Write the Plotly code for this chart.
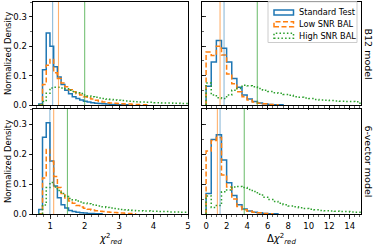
import numpy as np
import plotly.graph_objects as go

# ---------------- data ----------------
series_names = ["Standard Test", "Low SNR BAL", "High SNR BAL"]

# chi2_red bins (left column)
chi_bin_start = 0.668
chi_bin_width = 0.108
# delta chi2_red bins (right column)
dchi_bin_start = 0.0
dchi_bin_width = 0.5

# B12 model, chi2_red
b12_chi_std = [0.003, 0.12, 0.245, 0.20, 0.13, 0.095, 0.07, 0.05, 0.038, 0.028, 0.022, 0.017,
               0.013, 0.010, 0.008, 0.006, 0.005, 0.004, 0.003, 0.002, 0.002, 0.001, 0.001, 0.001]
b12_chi_low = [0.0, 0.07, 0.135, 0.155, 0.11, 0.09, 0.075, 0.062, 0.052, 0.045, 0.038, 0.034,
               0.028, 0.024, 0.020, 0.016, 0.013, 0.010, 0.008, 0.007, 0.006, 0.005, 0.004,
               0.003, 0.003, 0.002, 0.002, 0.001, 0.001]
b12_chi_high = [0.0, 0.012, 0.04, 0.058, 0.06, 0.06, 0.058, 0.055, 0.05, 0.046, 0.042, 0.039,
                0.034, 0.031, 0.028, 0.026, 0.024, 0.022, 0.020, 0.019, 0.017, 0.016, 0.015,
                0.014, 0.013, 0.012, 0.011, 0.010, 0.010, 0.009, 0.009, 0.008, 0.008, 0.007,
                0.007, 0.007, 0.006, 0.006, 0.005, 0.005, 0.005]

# B12 model, delta chi2_red
b12_dchi_std = [0.064, 0.146, 0.219, 0.193, 0.146, 0.09, 0.06, 0.034, 0.02, 0.012, 0.007,
                0.004, 0.002, 0.001, 0.001]
b12_dchi_low = [0.18, 0.168, 0.20, 0.17, 0.105, 0.072, 0.045, 0.028, 0.017, 0.010, 0.006,
                0.004, 0.002, 0.001]
b12_dchi_high = [0.075, 0.034, 0.025, 0.022, 0.034, 0.05, 0.056, 0.067, 0.065, 0.062, 0.056,
                 0.05, 0.046, 0.042, 0.04, 0.036, 0.033, 0.028, 0.026, 0.024, 0.022, 0.019,
                 0.017, 0.016, 0.015, 0.014, 0.013, 0.012, 0.012, 0.011]

# 6-vector model, chi2_red
sv_chi_std = [0.015, 0.256, 0.304, 0.177, 0.093, 0.054, 0.031, 0.02, 0.012, 0.008, 0.006,
              0.004, 0.003, 0.002, 0.002, 0.001, 0.001]
sv_chi_low = [0.0, 0.12, 0.215, 0.175, 0.125, 0.088, 0.068, 0.053, 0.043, 0.036, 0.028, 0.023,
              0.019, 0.016, 0.013, 0.011, 0.009, 0.008, 0.007, 0.006, 0.005, 0.004, 0.003,
              0.002, 0.002, 0.001]
sv_chi_high = [0.0, 0.03, 0.088, 0.105, 0.09, 0.078, 0.068, 0.058, 0.052, 0.047, 0.043, 0.04,
               0.037, 0.034, 0.031, 0.029, 0.027, 0.024, 0.022, 0.02, 0.018, 0.017, 0.015,
               0.014, 0.013, 0.012, 0.011, 0.011, 0.01, 0.01, 0.009, 0.009, 0.008, 0.008,
               0.008, 0.007, 0.007, 0.007, 0.006, 0.006, 0.006]

# 6-vector model, delta chi2_red
sv_dchi_std = [0.068, 0.248, 0.264, 0.18, 0.104, 0.062, 0.031, 0.017, 0.010, 0.006, 0.004,
               0.002, 0.001, 0.001]
sv_dchi_low = [0.21, 0.245, 0.255, 0.13, 0.09, 0.05, 0.025, 0.014, 0.009, 0.006, 0.004,
               0.002, 0.001]
sv_dchi_high = [0.06, 0.022, 0.028, 0.074, 0.08, 0.09, 0.092, 0.088, 0.082, 0.075, 0.066,
                0.056, 0.048, 0.042, 0.036, 0.031, 0.027, 0.024, 0.021, 0.018, 0.016, 0.014,
                0.012, 0.011, 0.010, 0.009, 0.008, 0.008, 0.007, 0.006]

# medians (vertical lines): [std, low, high]
b12_chi_median = [1.07, 1.24, 2.0]
b12_dchi_median = [1.75, 1.36, 4.99]
sv_chi_median = [0.99, 1.10, 1.50]
sv_dchi_median = [1.36, 1.10, 3.72]

row_labels = ["B12 model", "6-vector model"]
y_ticks = [0.0, 0.1, 0.2, 0.3]
chi_ticks = [1, 2, 3, 4, 5]
dchi_ticks = [0, 2, 4, 6, 8, 10, 12, 14]

# ---------------- styling ----------------
W, H = 374, 249
FONT = "DejaVu Sans"
colors = ["#1f77b4", "#ff7f0e", "#2ca02c"]
vcolors = ["rgba(31,119,180,0.5)", "rgba(255,127,14,0.6)", "rgba(44,160,44,0.65)"]
dashes = ["solid", "5px,2.5px", "1.5px,2.2px"]


def px_x(p):
    return p / W


def px_y(p):
    return 1 - p / H


xdom_left = [px_x(33), px_x(188)]
xdom_right = [px_x(202), px_x(361)]
ydom_top = [px_y(105), px_y(2)]
ydom_bot = [px_y(214), px_y(109)]

panels = [
    ("", [b12_chi_std, b12_chi_low, b12_chi_high], b12_chi_median, chi_bin_start, chi_bin_width),
    ("2", [b12_dchi_std, b12_dchi_low, b12_dchi_high], b12_dchi_median, dchi_bin_start, dchi_bin_width),
    ("3", [sv_chi_std, sv_chi_low, sv_chi_high], sv_chi_median, chi_bin_start, chi_bin_width),
    ("4", [sv_dchi_std, sv_dchi_low, sv_dchi_high], sv_dchi_median, dchi_bin_start, dchi_bin_width),
]

fig = go.Figure()
shapes = []

for suf, vals_list, medians, b0, bw in panels:
    for i, vals in enumerate(vals_list):
        edges = b0 + bw * np.arange(len(vals) + 1)
        xs = [edges[0]] + list(edges)
        ys = [0.0] + list(vals) + [0.0]
        fig.add_trace(go.Scatter(
            x=xs, y=ys, mode="lines", line_shape="hv",
            line=dict(color=colors[i], width=1.5, dash=dashes[i]),
            xaxis="x" + suf, yaxis="y" + suf, showlegend=False, hoverinfo="skip"))
    for i, m in enumerate(medians):
        shapes.append(dict(type="line", xref="x" + suf, yref="y" + suf + " domain",
                           x0=m, x1=m, y0=0, y1=1, layer="above",
                           line=dict(color=vcolors[i], width=1.1)))

tickfont = dict(family=FONT, size=8.5, color="#000")


def xaxis(dom, anchor, rng, ticks, show, minor_dt):
    return dict(domain=dom, anchor=anchor, range=rng, tickvals=ticks,
                ticktext=[str(t) for t in ticks], showticklabels=show,
                ticks="outside", ticklen=3.5, tickwidth=0.8, tickcolor="#000",
                minor=dict(ticks="outside", dtick=minor_dt, ticklen=2, tickwidth=0.6,
                           tickcolor="#000"),
                showline=True, mirror=True, linecolor="#000", linewidth=1,
                showgrid=False, zeroline=False, tickfont=tickfont, automargin=False,
                fixedrange=True)


def yaxis(dom, anchor, show):
    return dict(domain=dom, anchor=anchor, range=[0, 0.35], tickvals=y_ticks,
                ticktext=["%.1f" % t for t in y_ticks], showticklabels=show,
                ticks="outside" if show else "inside", ticklen=3.5, tickwidth=0.8,
                tickcolor="#000",
                minor=dict(ticks="outside" if show else "inside", dtick=0.05, ticklen=2,
                           tickwidth=0.6, tickcolor="#000"),
                showline=True, mirror=True, linecolor="#000", linewidth=1,
                showgrid=False, zeroline=False, tickfont=tickfont, automargin=False,
                fixedrange=True)


chi_range = [0.5, 5.0]
dchi_range = [-0.4, 15.1]

fig.update_layout(
    width=W, height=H,
    margin=dict(l=0, r=0, t=0, b=0),
    paper_bgcolor="white", plot_bgcolor="white",
    font=dict(family=FONT, color="#000"),
    showlegend=False,
    hovermode=False,
    xaxis=xaxis(xdom_left, "y", chi_range, chi_ticks, False, 0.2),
    yaxis=yaxis(ydom_top, "x", True),
    xaxis2=xaxis(xdom_right, "y2", dchi_range, dchi_ticks, False, 0.5),
    yaxis2=yaxis(ydom_top, "x2", False),
    xaxis3=xaxis(xdom_left, "y3", chi_range, chi_ticks, True, 0.2),
    yaxis3=yaxis(ydom_bot, "x3", True),
    xaxis4=xaxis(xdom_right, "y4", dchi_range, dchi_ticks, True, 0.5),
    yaxis4=yaxis(ydom_bot, "x4", False),
)

# ---- manual legend (patch style) ----
shapes.append(dict(type="rect", xref="paper", yref="paper",
                   x0=px_x(268), x1=px_x(357), y0=px_y(42.5), y1=px_y(1.8),
                   line=dict(color="#cccccc", width=1), fillcolor="rgba(255,255,255,0.85)",
                   layer="above"))
legend_rows = [12.5, 24.2, 35.8]
annotations = []
for i, name in enumerate(series_names):
    yc = legend_rows[i]
    shapes.append(dict(type="rect", xref="paper", yref="paper",
                       x0=px_x(274), x1=px_x(293.5), y0=px_y(yc + 2.5), y1=px_y(yc - 2.5),
                       line=dict(color=colors[i], width=1.5, dash=dashes[i]),
                       fillcolor="rgba(0,0,0,0)", layer="above"))
    annotations.append(dict(text=name, xref="paper", yref="paper", x=px_x(297), y=px_y(yc),
                            xanchor="left", yanchor="middle", showarrow=False,
                            font=dict(family=FONT, size=8.2, color="#000")))

# y titles
for yc in [53.5, 161.5]:
    annotations.append(dict(text="Normalized Density", xref="paper", yref="paper",
                            x=px_x(7.5), y=px_y(yc), textangle=-90, showarrow=False,
                            xanchor="center", yanchor="middle",
                            font=dict(family=FONT, size=8.5, color="#000")))
# row labels
for lab, yc in zip(row_labels, [53.5, 161.5]):
    annotations.append(dict(text=lab, xref="paper", yref="paper",
                            x=px_x(368), y=px_y(yc), textangle=90, showarrow=False,
                            xanchor="center", yanchor="middle",
                            font=dict(family=FONT, size=9.5, color="#000")))
# x titles
annotations.append(dict(text="<i>χ</i><sup>2</sup><sub><i>red</i></sub>", xref="paper",
                        yref="paper", x=px_x(110.5), y=px_y(239), showarrow=False,
                        xanchor="center", yanchor="middle",
                        font=dict(family=FONT, size=10, color="#000")))
annotations.append(dict(text="Δ<i>χ</i><sup>2</sup><sub><i>red</i></sub>", xref="paper",
                        yref="paper", x=px_x(281.5), y=px_y(239), showarrow=False,
                        xanchor="center", yanchor="middle",
                        font=dict(family=FONT, size=10, color="#000")))

fig.update_layout(shapes=shapes, annotations=annotations)
fig.write_html("out.html",
               config={"displayModeBar": False, "staticPlot": True},
               post_script="document.body.style.margin='0px';"
                           "document.body.style.overflow='hidden';")
